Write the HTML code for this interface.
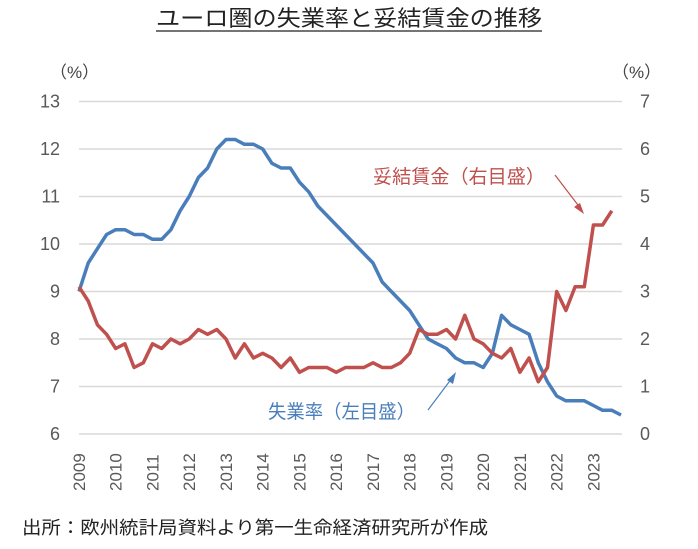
<!DOCTYPE html>
<html><head><meta charset="utf-8"><style>
body{margin:0;background:#fff;}
svg text{font-family:"Liberation Sans","Noto Sans CJK JP",sans-serif;}
</style></head><body>
<svg id="s" width="698" height="544" xmlns="http://www.w3.org/2000/svg">
<text x="156" y="26" font-size="22" fill="#222" textLength="386" lengthAdjust="spacingAndGlyphs">ユーロ圏の失業率と妥結賃金の推移</text>
<line x1="156" y1="31" x2="542" y2="31" stroke="#222" stroke-width="1.2"/>
<text x="50" y="78" font-size="17" fill="#444">（%）</text>
<text x="612" y="78" font-size="17" fill="#444">（%）</text>
<g id="grid" stroke="#d9d9d9" stroke-width="1.5"></g>
<g id="lab" font-size="18" fill="#595959"></g>
<polyline id="u" fill="none" stroke="#4a7ebb" stroke-width="3.5" stroke-linejoin="round"/>
<polyline id="w" fill="none" stroke="#c0504d" stroke-width="3.5" stroke-linejoin="round"/>
<text x="373" y="183" font-size="19" fill="#c0504d" textLength="172" lengthAdjust="spacingAndGlyphs">妥結賃金（右目盛）</text>
<line x1="555" y1="175" x2="581" y2="209" stroke="#c0504d" stroke-width="1.2"/>
<polygon points="584,214 574,207 580,203" fill="#c0504d"/>
<text x="268" y="418" font-size="19" fill="#4a7ebb" textLength="147" lengthAdjust="spacingAndGlyphs">失業率（左目盛）</text>
<line x1="428" y1="410" x2="452" y2="378" stroke="#4a7ebb" stroke-width="1.2"/>
<polygon points="456,372 453,384 447,380" fill="#4a7ebb"/>
<text x="22" y="534" font-size="18" fill="#222" textLength="466" lengthAdjust="spacingAndGlyphs">出所：欧州統計局資料より第一生命経済研究所が作成</text>
</svg>
<script>
(function(){
var ns="http://www.w3.org/2000/svg";
var g=document.getElementById('grid'),lab=document.getElementById('lab');
function el(t,a,p,txt){var e=document.createElementNS(ns,t);for(var k in a)e.setAttribute(k,a[k]);if(txt!=null)e.textContent=txt;p.appendChild(e);return e;}
var yTop=101.5,bot=434,u=(bot-yTop)/7;
for(var i=0;i<=7;i++){var y=bot-i*u;
el('line',{x1:79,x2:622,y1:y,y2:y},g);
el('text',{x:60,y:y+6,'text-anchor':'end'},lab,String(6+i));
el('text',{x:640,y:y+6},lab,String(i));}
var x0=79,st=542/59;
for(var yr=0;yr<15;yr++){var x=x0+yr*4*st+6;
el('text',{x:0,y:0,transform:'translate('+x+',491) rotate(-90)','font-size':'17'},lab,String(2009+yr));}
var U=[9.0,9.6,9.9,10.2,10.3,10.3,10.2,10.2,10.1,10.1,10.3,10.7,11.0,11.4,11.6,12.0,12.2,12.2,12.1,12.1,12.0,11.7,11.6,11.6,11.3,11.1,10.8,10.6,10.4,10.2,10.0,9.8,9.6,9.2,9.0,8.8,8.6,8.3,8.0,7.9,7.8,7.6,7.5,7.5,7.4,7.7,8.5,8.3,8.2,8.1,7.5,7.1,6.8,6.7,6.7,6.7,6.6,6.5,6.5,6.4];
var W=[3.1,2.8,2.3,2.1,1.8,1.9,1.4,1.5,1.9,1.8,2.0,1.9,2.0,2.2,2.1,2.2,2.0,1.6,1.9,1.6,1.7,1.6,1.4,1.6,1.3,1.4,1.4,1.4,1.3,1.4,1.4,1.4,1.5,1.4,1.4,1.5,1.7,2.2,2.1,2.1,2.2,2.0,2.5,2.0,1.9,1.7,1.6,1.8,1.3,1.6,1.1,1.4,3.0,2.6,3.1,3.1,4.4,4.4,4.7];
document.getElementById('u').setAttribute('points',U.map(function(v,i){return (x0+i*st).toFixed(1)+','+(bot-(v-6)*u).toFixed(1)}).join(' '));
document.getElementById('w').setAttribute('points',W.map(function(v,i){return (x0+i*st).toFixed(1)+','+(bot-v*u).toFixed(1)}).join(' '));
})();
</script>
</body></html>
